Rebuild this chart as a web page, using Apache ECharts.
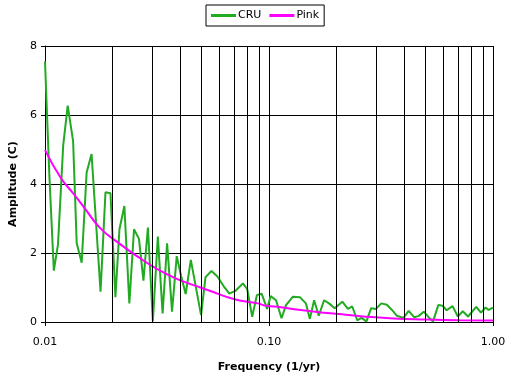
<!DOCTYPE html>
<html><head><meta charset="utf-8">
<script src="https://cdn.jsdelivr.net/npm/echarts@6/dist/echarts.min.js"></script>
<style>html,body{margin:0;padding:0;background:#fff}#c{width:512px;height:378px}</style>
</head><body><div id="c"></div>
<script>
var cruFreq = [0.0100,0.01045,0.01095,0.01143,0.01206,0.01263,0.01335,0.01385,0.01458,0.01534,0.01614,0.01685,0.01770,0.01862,0.01960,0.02063,0.02149,0.02261,0.02380,0.02497,0.02627,0.02751,0.02880,0.03031,0.03190,0.03350,0.03508,0.03691,0.03873,0.04047,0.04246,0.04477,0.04974,0.05208,0.05536,0.05886,0.06257,0.06653,0.07073,0.07652,0.07996,0.08415,0.08828,0.09271,0.09808,0.1017,0.1075,0.1137,0.1191,0.1276,0.1374,0.1461,0.1522,0.1590,0.1668,0.1761,0.1853,0.1964,0.2125,0.2250,0.2353,0.2476,0.2587,0.2723,0.2857,0.3000,0.3173,0.3357,0.3540,0.3725,0.3985,0.4202,0.4445,0.4645,0.4913,0.5144,0.5397,0.5697,0.5958,0.6207,0.6599,0.6966,0.7331,0.7738,0.8415,0.8838,0.9271,0.9559,1.00];
var cruAmp = [7.55,4.3,1.49,2.25,5.13,6.27,5.24,2.29,1.72,4.33,4.87,3.0,0.88,3.76,3.73,0.72,2.68,3.36,0.54,2.69,2.41,1.2,2.74,0.02,2.48,0.25,2.28,0.3,1.91,1.35,0.81,1.8,0.2,1.3,1.48,1.32,1.05,0.82,0.9,1.12,0.95,0.15,0.78,0.82,0.38,0.75,0.63,0.11,0.49,0.73,0.72,0.54,0.09,0.63,0.18,0.63,0.54,0.4,0.59,0.38,0.45,0.05,0.12,0.02,0.4,0.38,0.54,0.5,0.35,0.18,0.12,0.32,0.14,0.17,0.3,0.15,0.01,0.49,0.47,0.34,0.46,0.16,0.31,0.16,0.44,0.27,0.42,0.35,0.42];
var pinkFreq = [0.0100,0.01173,0.01343,0.01488,0.01764,0.02142,0.02574,0.03157,0.03873,0.04750,0.05354,0.07023,0.08918,0.09708,0.1132,0.1297,0.1823,0.2197,0.2561,0.3598,0.5061,0.7110,1.00];
var pinkAmp = [4.99,4.19,3.71,3.34,2.72,2.28,1.91,1.54,1.25,1.04,0.92,0.66,0.54,0.47,0.43,0.37,0.26,0.21,0.17,0.10,0.07,0.05,0.04];
var minorGrid = [0.02,0.03,0.04,0.05,0.06,0.07,0.08,0.09,0.2,0.3,0.4,0.5,0.6,0.7,0.8,0.9];
var yTicks = {min:0, max:8, interval:2};

var font = 'DejaVu Sans, Verdana, sans-serif';
function zip(a,b){return a.map(function(v,i){return [v,b[i]];});}
var chart = echarts.init(document.getElementById('c'), null, {renderer:'canvas'});
chart.setOption({
  animation:false,
  backgroundColor:'#fff',
  textStyle:{fontFamily:font},
  legend:{
    top:5, left:206, itemWidth:25, itemHeight:3, itemGap:8,
    padding:[5,5,5,5], borderColor:'#000', borderWidth:1,
    textStyle:{fontFamily:font, fontSize:11, color:'#000', padding:[0,0,0,-3]},
    data:[{name:'CRU', icon:'rect'},{name:'Pink', icon:'rect'}]
  },
  grid:{left:42, right:19, top:46, bottom:51, containLabel:false},
  xAxis:{
    type:'log', logBase:10, min:0.01, max:1,
    name:'Frequency (1/yr)', nameLocation:'middle', nameGap:40,
    nameTextStyle:{fontFamily:font, fontSize:11, fontWeight:'bold', color:'#000'},
    axisLine:{lineStyle:{color:'#000', width:1}},
    axisTick:{show:true, length:4, lineStyle:{color:'#000'}},
    axisLabel:{margin:15, fontSize:11, color:'#000', fontFamily:font, formatter:function(v){return v.toFixed(2);}},
    splitLine:{show:true, lineStyle:{color:'#000', width:1}},
    minorTick:{show:false}, minorSplitLine:{show:false}
  },
  yAxis:{
    type:'value', min:yTicks.min, max:yTicks.max, interval:yTicks.interval,
    name:'Amplitude (C)', nameLocation:'middle', nameGap:26,
    nameTextStyle:{fontFamily:font, fontSize:11, fontWeight:'bold', color:'#000'},
    axisLine:{show:true, lineStyle:{color:'#000', width:1}},
    axisTick:{show:true, length:4, lineStyle:{color:'#000'}},
    axisLabel:{margin:8, fontSize:11, color:'#000', fontFamily:font},
    splitLine:{show:true, lineStyle:{color:'#000', width:1}}
  },
  series:[
    {name:'CRU', type:'line', data:zip(cruFreq,cruAmp), showSymbol:false, symbol:'none',
     lineStyle:{color:'#22aa22', width:2}, itemStyle:{color:'#22aa22'}, z:3,
     markLine:{silent:true, symbol:'none', label:{show:false}, animation:false,
       lineStyle:{color:'#000', width:1, type:'solid'},
       data:minorGrid.map(function(v){return {xAxis:v};})}},
    {name:'Pink', type:'line', data:zip(pinkFreq,pinkAmp), showSymbol:false, symbol:'none', smooth:true,
     lineStyle:{color:'#ff00ff', width:2}, itemStyle:{color:'#ff00ff'}, z:4}
  ]
});
</script></body></html>
